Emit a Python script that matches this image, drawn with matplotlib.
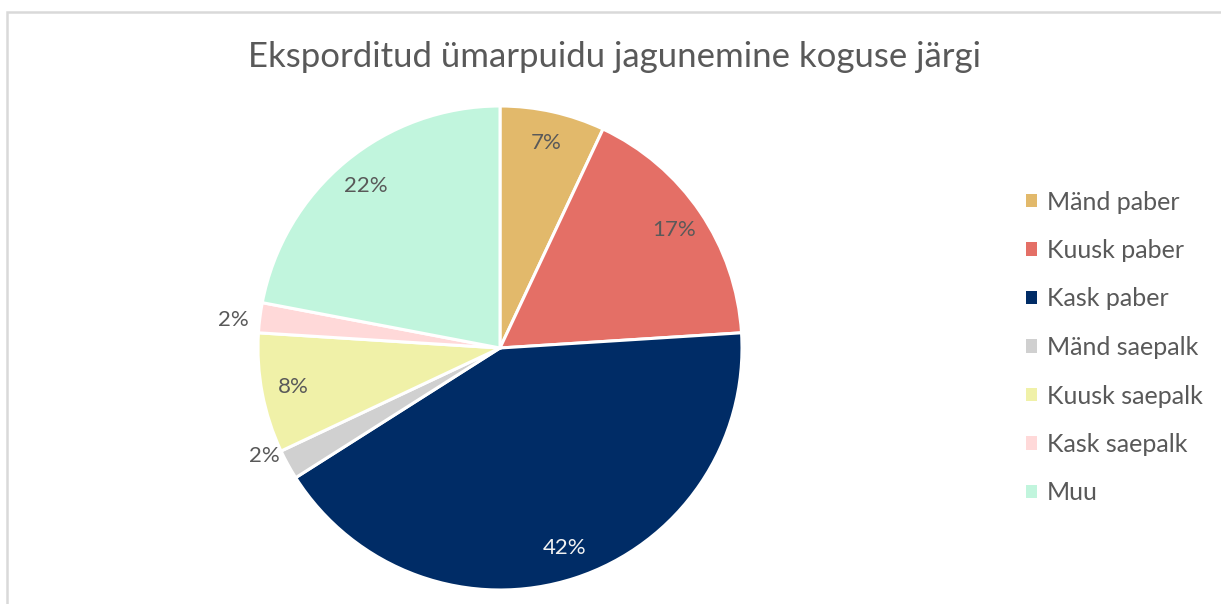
import matplotlib.pyplot as plt
from matplotlib.patches import Patch
import numpy as np

# ── Data ──────────────────────────────────────────────────────────────────────
labels = ["Mänd paber", "Kuusk paber", "Kask paber", "Mänd saepalk",
          "Kuusk saepalk", "Kask saepalk", "Muu"]
shares = [7, 17, 42, 2, 8, 2, 22]
colors = ["#E2B96B", "#E46F66", "#002C66", "#D0D0D0",
          "#F0F1A8", "#FFD9D9", "#C1F5DD"]

TXT = "#595959"
plt.rcParams["font.family"] = "Lato"

W, H = 1221, 604
fig = plt.figure(figsize=(W / 100, H / 100), dpi=100)

# chart border (light gray, top and left visible)
fig.add_artist(plt.Rectangle((7 / W, -0.01), 1.02, 1 - 12 / H + 0.01,
                             transform=fig.transFigure, fill=False,
                             edgecolor="#D9D9D9", linewidth=1.8))

# pie axes: centre (500, 348) px, radius 242 px
cx, cy, r = 500, 348, 242
ax = fig.add_axes([(cx - r) / W, (H - cy - r) / H, 2 * r / W, 2 * r / H])
wedges, texts, autotexts = ax.pie(
    shares, colors=colors, startangle=90, counterclock=False,
    autopct="%d%%", pctdistance=0.87,
    wedgeprops=dict(edgecolor="white", linewidth=2.2),
    textprops=dict(color=TXT, fontsize=16),
)
ax.set_xlim(-1, 1)
ax.set_ylim(-1, 1)

# dark slice gets a light label
autotexts[2].set_color("#F2F2F2")

# small slices get their label outside the pie
for w, t, v in zip(wedges, autotexts, shares):
    if v <= 2:
        ang = np.deg2rad((w.theta1 + w.theta2) / 2)
        t.set_position((1.11 * np.cos(ang), 0.93 * np.sin(ang)))

fig.text(614 / W, 1 - 57 / H, "Eksporditud ümarpuidu jagunemine koguse järgi",
         ha="center", va="center", fontsize=25, color=TXT)

handles = [Patch(facecolor=c, edgecolor="none") for c in colors]
fig.legend(handles, labels, loc="upper left",
           bbox_to_anchor=(1003 / W, 1 - 168 / H), frameon=False,
           fontsize=18, labelcolor=TXT, handlelength=0.45, handleheight=0.45,
           handletextpad=0.4, labelspacing=1.02)

fig.savefig("out.png", dpi=100, facecolor="white")
